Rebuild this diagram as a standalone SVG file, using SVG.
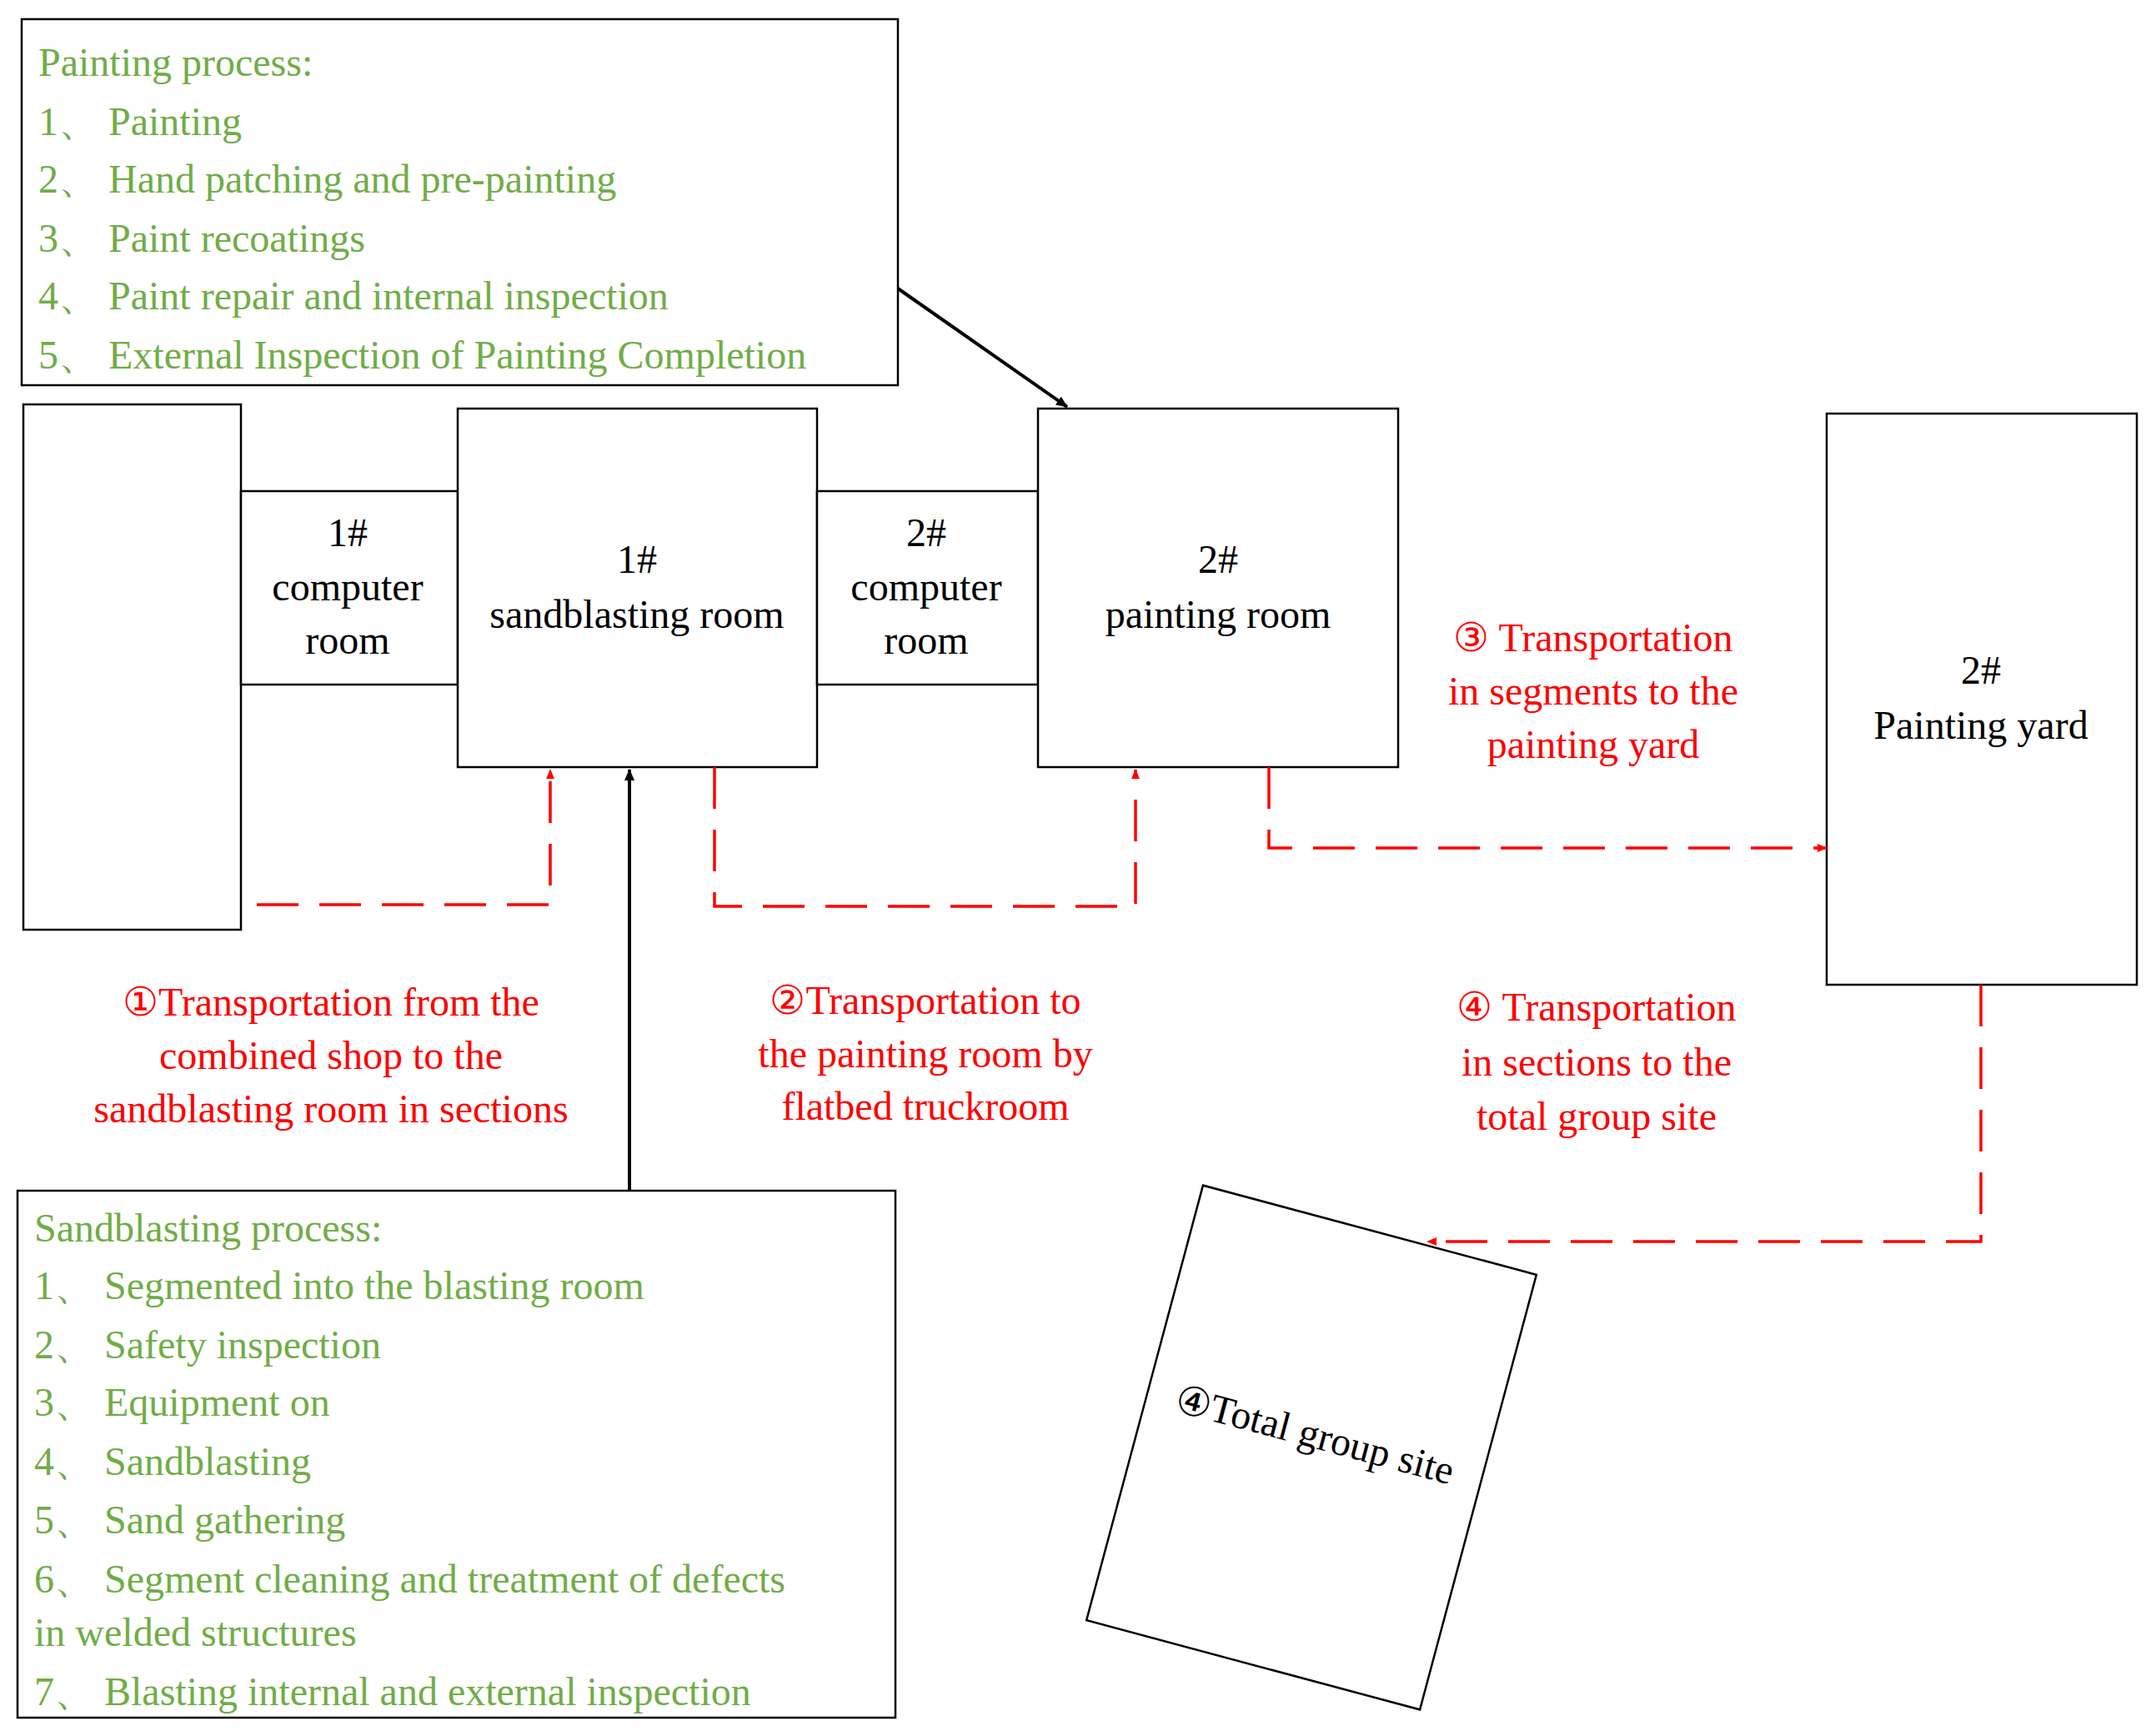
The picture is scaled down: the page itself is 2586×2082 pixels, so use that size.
<svg xmlns="http://www.w3.org/2000/svg" width="2586" height="2082" viewBox="0 0 2586 2082">
<style>
text{font-family:"Liberation Serif","Times New Roman",serif;font-size:48px}
.b{fill:#fff;stroke:#000;stroke-width:2.5}
.g{fill:#70AD47}
.r{fill:#FF0000;text-anchor:middle}
.k{fill:#000;text-anchor:middle}
.d{fill:none;stroke:#FF0000;stroke-width:3.5;stroke-dasharray:50 25}
.s{fill:none;stroke:#000;stroke-width:4}
</style>
<defs>
<marker id="ar" markerWidth="12" markerHeight="10" refX="11" refY="5" orient="auto" markerUnits="userSpaceOnUse" viewBox="0 0 12 10"><path d="M0,0L12,5L0,10z" fill="#FF0000"/></marker>
<marker id="ab" markerWidth="14" markerHeight="12" refX="13" refY="6" orient="auto" markerUnits="userSpaceOnUse" viewBox="0 0 14 12"><path d="M0,0L14,6L0,12z" fill="#000"/></marker>
</defs>
<rect width="2586" height="2082" fill="#fff"/>
<g id="painting-process">
<rect class="b" x="26" y="23" width="1051" height="439"/>
<text class="g" x="46" y="91">Painting process:</text>
<text class="g" x="46" y="162">1、 Painting</text>
<text class="g" x="46" y="231">2、 Hand patching and pre-painting</text>
<text class="g" x="46" y="302">3、 Paint recoatings</text>
<text class="g" x="46" y="371">4、 Paint repair and internal inspection</text>
<text class="g" x="46" y="442">5、 External Inspection of Painting Completion</text>
</g>
<g id="combined-shop"><rect class="b" x="28" y="485" width="261" height="630"/></g>
<g id="computer1">
<rect class="b" x="289" y="589" width="260" height="232"/>
<text class="k" x="417" y="655">1#</text><text class="k" x="417" y="720">computer</text><text class="k" x="417" y="784">room</text>
</g>
<g id="sandblasting1">
<rect class="b" x="549" y="490" width="431" height="430"/>
<text class="k" x="764" y="687">1#</text><text class="k" x="764" y="753">sandblasting room</text>
</g>
<g id="computer2">
<rect class="b" x="980" y="589" width="265" height="232"/>
<text class="k" x="1111" y="655">2#</text><text class="k" x="1111" y="720">computer</text><text class="k" x="1111" y="784">room</text>
</g>
<g id="painting2">
<rect class="b" x="1245" y="490" width="432" height="430"/>
<text class="k" x="1461" y="687">2#</text><text class="k" x="1461" y="753">painting room</text>
</g>
<g id="painting-yard">
<rect class="b" x="2191" y="496" width="372" height="685"/>
<text class="k" x="2376" y="820">2#</text><text class="k" x="2376" y="886">Painting yard</text>
</g>
<g id="total-site" transform="translate(1573,1736) rotate(15)">
<rect class="b" x="-207" y="-270" width="414" height="540"/>
<text class="k" x="0" y="0">④Total group site</text>
</g>
<g id="sandblasting-process">
<rect class="b" x="21" y="1428" width="1053" height="632"/>
<text class="g" x="41" y="1489">Sandblasting process:</text>
<text class="g" x="41" y="1558">1、 Segmented into the blasting room</text>
<text class="g" x="41" y="1629">2、 Safety inspection</text>
<text class="g" x="41" y="1698">3、 Equipment on</text>
<text class="g" x="41" y="1769">4、 Sandblasting</text>
<text class="g" x="41" y="1839">5、 Sand gathering</text>
<text class="g" x="41" y="1910">6、 Segment cleaning and treatment of defects</text>
<text class="g" x="41" y="1974">in welded structures</text>
<text class="g" x="41" y="2045">7、 Blasting internal and external inspection</text>
</g>
<g id="connectors">
<path class="s" d="M1077,346L1280,488" marker-end="url(#ab)"/>
<path class="s" d="M755,1428L755,923" marker-end="url(#ab)"/>
<path class="d" d="M308,1085L660,1085L660,923" marker-end="url(#ar)"/>
<path class="d" d="M857,920L857,1087L1362,1087L1362,923" marker-end="url(#ar)"/>
<path class="d" d="M1522,920L1522,1017L2191,1017" marker-end="url(#ar)"/>
<path class="d" d="M2376,1181L2376,1489L1712,1489" marker-end="url(#ar)"/>
</g>
<g id="labels">
<text class="r" x="397" y="1218">①Transportation from the</text>
<text class="r" x="397" y="1282">combined shop to the</text>
<text class="r" x="397" y="1346">sandblasting room in sections</text>
<text class="r" x="1110" y="1216">②Transportation to</text>
<text class="r" x="1110" y="1280">the painting room by</text>
<text class="r" x="1110" y="1343">flatbed truckroom</text>
<text class="r" x="1911" y="781">③ Transportation</text>
<text class="r" x="1911" y="845">in segments to the</text>
<text class="r" x="1911" y="909">painting yard</text>
<text class="r" x="1915" y="1224">④ Transportation</text>
<text class="r" x="1915" y="1290">in sections to the</text>
<text class="r" x="1915" y="1355">total group site</text>
</g>
</svg>
